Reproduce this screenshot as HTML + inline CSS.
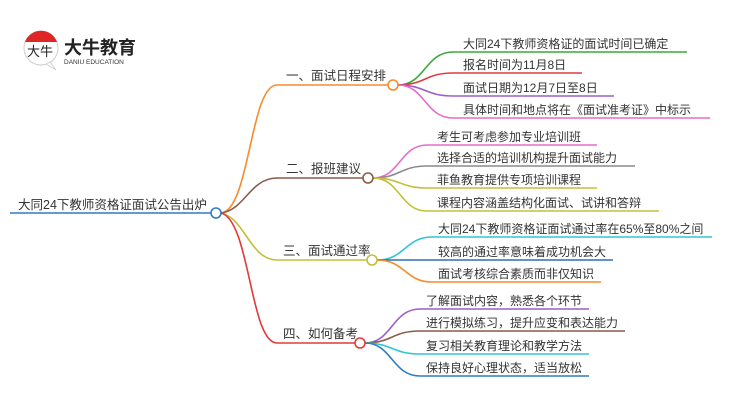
<!DOCTYPE html>
<html><head><meta charset="utf-8"><style>
html,body{margin:0;padding:0;background:#fff;}
svg text{font-family:"Liberation Sans","Noto Sans CJK SC",sans-serif;fill:#333;}
</style></head><body>
<svg width="750" height="410" viewBox="0 0 750 410" xmlns="http://www.w3.org/2000/svg">
<g>
<circle cx="41" cy="48" r="17" fill="#fff" stroke="#ccc" stroke-width="1"/>
<path d="M25 42 A17 17 0 0 1 57 42 Z" fill="#e02525"/>
<path d="M50 62 L56 70 L46 64 Z" fill="#fff" stroke="#ccc" stroke-width="0.8"/>
<text x="27" y="56" font-size="13" style="fill:#222">大牛</text>
<text x="64" y="54" font-size="18" font-weight="bold" style="fill:#222">大牛教育</text>
<text x="64" y="64" font-size="6.5" style="fill:#333">DANIU EDUCATION</text>
</g>
<g fill="none" stroke-width="1.6">
<line x1="10" y1="213" x2="211" y2="213" stroke="#2f7dc1"/>
<path d="M221 213 C250 210,250 85,277 85 L388 85" stroke="#f78b2a"/>
<path d="M221 213 C245 210,250 178,277 178 L363 178" stroke="#8a5a4a"/>
<path d="M221 213 C245 218,250 260,277 260 L367 260" stroke="#c5bf3a"/>
<path d="M221 213 C250 220,250 343,277 343 L355 343" stroke="#e03b3b"/>
<path d="M398 85 C425 85,425 52,453 52 L687 52" stroke="#3aa83a"/>
<path d="M398 85 C425 85,425 73,453 73 L582 73" stroke="#e03b3b"/>
<path d="M398 85 C425 85,425 96,453 96 L614 96" stroke="#9a5ec8"/>
<path d="M398 85 C425 85,425 118,453 118 L710 118" stroke="#e56ccc"/>
<path d="M373 178 C400 178,400 145,427 145 L597 145" stroke="#e56ccc"/>
<path d="M373 178 C400 178,400 166,427 166 L635 166" stroke="#8a8a8a"/>
<path d="M373 178 C400 178,400 188,427 188 L597 188" stroke="#c5bf3a"/>
<path d="M373 178 C400 178,400 211,427 211 L659 211" stroke="#c5bf3a"/>
<path d="M377 260 C405 260,405 237,432 237 L712 237" stroke="#2ec5d8"/>
<path d="M377 260 L613 260" stroke="#2f6fb5"/>
<path d="M377 260 C405 260,405 282,432 282 L601 282" stroke="#f78b2a"/>
<path d="M365 343 C392 343,392 309,420 309 L589 309" stroke="#9a5ec8"/>
<path d="M365 343 C392 343,392 331,420 331 L625 331" stroke="#8a5a4a"/>
<path d="M365 343 C392 343,392 354,420 354 L589 354" stroke="#2ec5d8"/>
<path d="M365 343 C392 343,392 376,420 376 L589 376" stroke="#2f7dc1"/>
</g>
<g fill="#fff" stroke-width="1.6">
<circle cx="216" cy="213" r="5" stroke="#2f7dc1"/>
<circle cx="393" cy="85" r="5" stroke="#f78b2a"/>
<circle cx="368" cy="178" r="5" stroke="#8a5a4a"/>
<circle cx="372" cy="260" r="5" stroke="#c5bf3a"/>
<circle cx="360" cy="343" r="5" stroke="#e03b3b"/>
</g>
<g font-size="12.5">
<text x="18" y="209">大同24下教师资格证面试公告出炉</text>
<text x="286" y="80">一、面试日程安排</text>
<text x="286" y="173">二、报班建议</text>
<text x="283" y="255">三、面试通过率</text>
<text x="283" y="338">四、如何备考</text>
</g>
<g font-size="12">
<text x="463" y="48">大同24下教师资格证的面试时间已确定</text>
<text x="463" y="69">报名时间为11月8日</text>
<text x="463" y="92">面试日期为12月7日至8日</text>
<text x="463" y="114">具体时间和地点将在《面试准考证》中标示</text>
<text x="437" y="141">考生可考虑参加专业培训班</text>
<text x="437" y="162">选择合适的培训机构提升面试能力</text>
<text x="437" y="184">菲鱼教育提供专项培训课程</text>
<text x="437" y="207">课程内容涵盖结构化面试、试讲和答辩</text>
<text x="438" y="233">大同24下教师资格证面试通过率在65%至80%之间</text>
<text x="438" y="256">较高的通过率意味着成功机会大</text>
<text x="438" y="278">面试考核综合素质而非仅知识</text>
<text x="426" y="305">了解面试内容，熟悉各个环节</text>
<text x="426" y="327">进行模拟练习，提升应变和表达能力</text>
<text x="426" y="350">复习相关教育理论和教学方法</text>
<text x="426" y="372">保持良好心理状态，适当放松</text>
</g>
</svg>
</body></html>
